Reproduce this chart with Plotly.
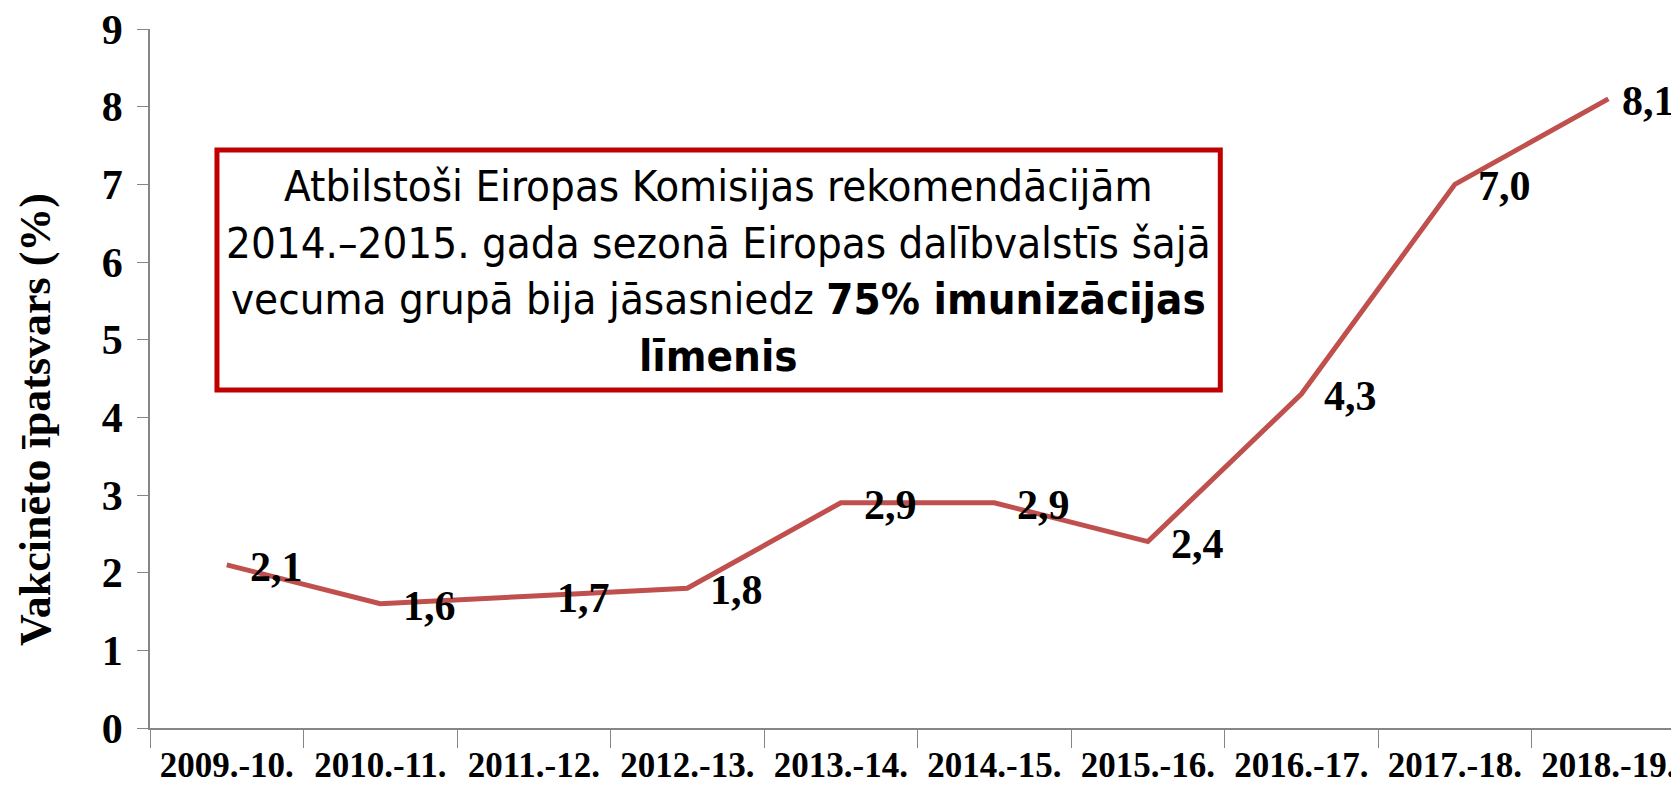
import plotly.graph_objects as go

# sezonas un vakcinēto īpatsvars (%)
seasons = ["2009.-10.", "2010.-11.", "2011.-12.", "2012.-13.", "2013.-14.",
           "2014.-15.", "2015.-16.", "2016.-17.", "2017.-18.", "2018.-19."]
share = [2.1, 1.6, 1.7, 1.8, 2.9, 2.9, 2.4, 4.3, 7.0, 8.1]
share_labels = ["2,1", "1,6", "1,7", "1,8", "2,9", "2,9", "2,4", "4,3", "7,0", "8,1"]
y_ticks = list(range(0, 10))

box_text = ("Atbilstoši Eiropas Komisijas rekomendācijām<br>"
            "2014.–2015. gada sezonā Eiropas dalībvalstīs šajā<br>"
            "vecuma grupā bija jāsasniedz <b>75% imunizācijas</b><br>"
            "<b>līmenis</b>")

serif = "Liberation Serif, Times New Roman, serif"
axis_grey = "#868686"

fig = go.Figure()
fig.add_trace(go.Scatter(x=seasons, y=share,
                         mode="lines",
                         line=dict(color="#C0504D", width=5),
                         hoverinfo="x+y",
                         showlegend=False))

# datu etiķetes pa labi no punktiem (pēdējā tuvāk, lai ietilptu)
for i, (s, v, lab) in enumerate(zip(seasons, share, share_labels)):
    fig.add_annotation(x=s, y=v, text="<b>" + lab + "</b>",
                       showarrow=False, xanchor="left", yanchor="middle",
                       xshift=12 if i == len(seasons) - 1 else 21, yshift=-2,
                       font=dict(family=serif, size=42, color="black"))

# sarkanais rāmis ar tekstu
fig.add_shape(type="rect", xref="paper", yref="paper",
              x0=0.0438, x1=0.700, y0=0.4835, y1=0.827,
              line=dict(color="#C00000", width=5), fillcolor="white",
              layer="below")
fig.add_annotation(xref="paper", yref="paper", x=0.372, y=0.6545,
                   text=box_text, showarrow=False, align="center",
                   xanchor="center", yanchor="middle",
                   font=dict(family="Liberation Sans Narrow, DejaVu Sans Condensed, Open Sans, sans-serif",
                             size=43.5, color="black"))

# ass nosaukums
fig.add_annotation(xref="paper", yref="paper", x=-0.0752, y=0.4406,
                   text="<b>Vakcinēto īpatsvars (%)</b>", textangle=-90,
                   showarrow=False, xanchor="center", yanchor="middle",
                   font=dict(family=serif, size=44, color="black"))

fig.update_layout(
    width=1671, height=779,
    margin=dict(l=142, r=0, t=21, b=59),
    paper_bgcolor="white", plot_bgcolor="white",
    xaxis=dict(type="category", range=[-0.5, 9.46],
               showline=True, linecolor=axis_grey, linewidth=1.5,
               ticks="outside", tickson="boundaries", ticklen=18,
               tickcolor=axis_grey, showgrid=False, zeroline=False,
               tickfont=dict(family=serif, size=35, color="black"),
               ticklabelstandoff=5),
    yaxis=dict(range=[0, 9], tickvals=y_ticks,
               ticktext=["<b>%d</b>" % t for t in y_ticks],
               showline=True, linecolor=axis_grey, linewidth=1.5,
               ticks="outside", ticklen=11, tickcolor=axis_grey,
               showgrid=False, zeroline=False, ticklabeloverflow="allow",
               tickfont=dict(family=serif, size=42, color="black"),
               ticklabelstandoff=6),
)
fig.update_xaxes(tickvals=seasons, ticktext=["<b>" + s + "</b>" for s in seasons])

fig.write_html("out.html")
